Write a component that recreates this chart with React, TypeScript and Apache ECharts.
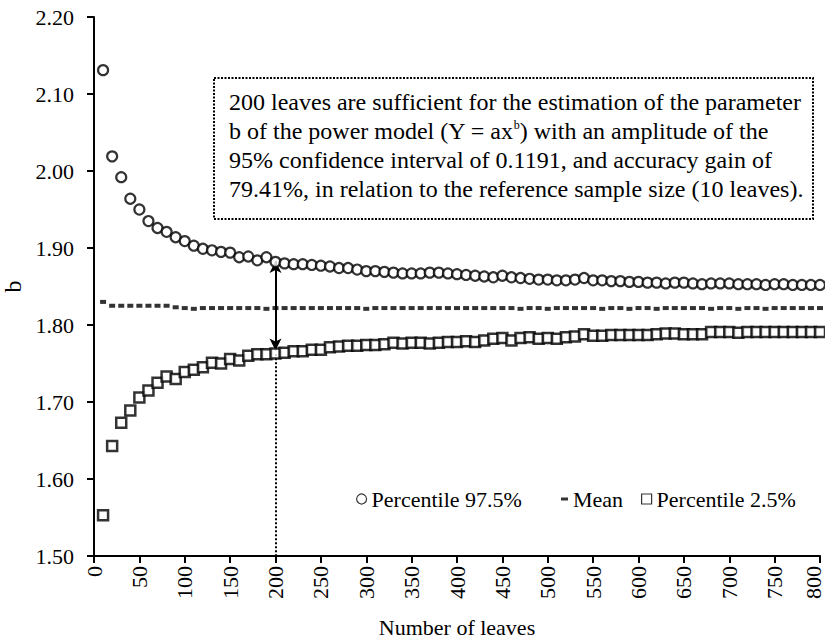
import React, { useEffect, useRef } from "react";
import * as echarts from "echarts";

const leaves = [10, 20, 30, 40, 50, 60, 70, 80, 90, 100, 110, 120, 130, 140, 150, 160, 170, 180, 190, 200,
  210, 220, 230, 240, 250, 260, 270, 280, 290, 300, 310, 320, 330, 340, 350, 360, 370, 380, 390, 400,
  410, 420, 430, 440, 450, 460, 470, 480, 490, 500, 510, 520, 530, 540, 550, 560, 570, 580, 590, 600,
  610, 620, 630, 640, 650, 660, 670, 680, 690, 700, 710, 720, 730, 740, 750, 760, 770, 780, 790, 800];

const upper = [2.131, 2.019, 1.992, 1.964, 1.950, 1.935, 1.926, 1.921, 1.914, 1.909,
  1.903, 1.899, 1.897, 1.895, 1.894, 1.888, 1.889, 1.884, 1.888, 1.882,
  1.880, 1.879, 1.879, 1.878, 1.877, 1.876, 1.874, 1.874, 1.872, 1.870,
  1.870, 1.869, 1.868, 1.867, 1.867, 1.867, 1.868, 1.868, 1.867, 1.866,
  1.865, 1.864, 1.863, 1.862, 1.864, 1.862, 1.861, 1.860, 1.859, 1.859,
  1.858, 1.858, 1.859, 1.861, 1.858, 1.858, 1.857, 1.857, 1.856, 1.856,
  1.855, 1.855, 1.854, 1.855, 1.855, 1.854, 1.853, 1.854, 1.854, 1.854,
  1.853, 1.853, 1.853, 1.852, 1.853, 1.853, 1.852, 1.852, 1.852, 1.852];

const mean = [1.830, 1.825, 1.825, 1.825, 1.825, 1.825, 1.825, 1.825, 1.823, 1.822,
  1.821, 1.822, 1.822, 1.822, 1.822, 1.822, 1.822, 1.822, 1.821, 1.822,
  1.822, 1.822, 1.822, 1.822, 1.822, 1.822, 1.822, 1.822, 1.822, 1.821,
  1.822, 1.822, 1.822, 1.822, 1.822, 1.822, 1.822, 1.822, 1.822, 1.822,
  1.822, 1.822, 1.822, 1.822, 1.822, 1.822, 1.821, 1.822, 1.822, 1.821,
  1.822, 1.822, 1.822, 1.822, 1.822, 1.821, 1.822, 1.822, 1.821, 1.822,
  1.822, 1.821, 1.822, 1.822, 1.822, 1.822, 1.822, 1.821, 1.822, 1.822,
  1.821, 1.822, 1.822, 1.821, 1.822, 1.822, 1.822, 1.822, 1.822, 1.822];

const lower = [1.553, 1.643, 1.673, 1.689, 1.706, 1.715, 1.725, 1.733, 1.730, 1.739,
  1.742, 1.745, 1.751, 1.750, 1.756, 1.754, 1.760, 1.762, 1.762, 1.763,
  1.764, 1.766, 1.766, 1.768, 1.768, 1.771, 1.772, 1.773, 1.773, 1.774,
  1.774, 1.775, 1.777, 1.776, 1.777, 1.777, 1.776, 1.777, 1.778, 1.778,
  1.779, 1.778, 1.780, 1.782, 1.783, 1.780, 1.783, 1.784, 1.782, 1.783,
  1.782, 1.784, 1.785, 1.788, 1.786, 1.786, 1.787, 1.787, 1.787, 1.787,
  1.787, 1.788, 1.789, 1.789, 1.788, 1.788, 1.788, 1.791, 1.791, 1.791,
  1.790, 1.791, 1.791, 1.791, 1.791, 1.791, 1.791, 1.791, 1.791, 1.791];

const seriesNames = ["Percentile 97.5%", "Mean", "Percentile 2.5%"];
const arrowTop = [200, 1.883];
const arrowBottom = [200, 1.767];
const dropTop = [200, 1.762];
const dropBottom = [200, 1.5];

const noteLines = [
  "{n|200 leaves are sufficient for the estimation of the parameter}",
  "{n|b of the power model (Y = ax}{s|b}{n|) with an amplitude of the}",
  "{n|95% confidence interval of 0.1191, and accuracy gain of}",
  "{n|79.41%, in relation to the reference sample size (10 leaves).}",
];

const FONT = "Liberation Serif";

export default function App() {
  const ref = useRef<HTMLDivElement>(null);
  useEffect(() => {
    if (!ref.current) return;
    const chart = echarts.init(ref.current, null, { renderer: "svg" });
    const pairs = (ys: number[]) => leaves.map((x, i) => [x, ys[i]]);
    const textStyle = { fontFamily: FONT, fontSize: 22, color: "#000" };
    const legendBase = {
      top: 483,
      orient: "horizontal",
      textStyle: { ...textStyle, fontSize: 22 },
      itemGap: 4,
      selectedMode: false,
    };
    chart.setOption({
      animation: false,
      backgroundColor: "#fff",
      grid: { left: 94, right: 5, top: 17, bottom: 86, containLabel: false, outerBoundsMode: "none" },
      legend: [
        { ...legendBase, left: 351, data: [seriesNames[0]], itemWidth: 10, itemHeight: 10, itemStyle: { borderWidth: 1.2 } },
        { ...legendBase, left: 556, data: [seriesNames[1]], itemWidth: 7, itemHeight: 3 },
        { ...legendBase, left: 636, data: [seriesNames[2]], itemWidth: 10, itemHeight: 10, itemStyle: { borderWidth: 1.2 } },
      ],
      xAxis: {
        type: "value",
        min: 0,
        max: 800,
        interval: 50,
        name: "Number of leaves",
        nameLocation: "middle",
        nameGap: 60,
        nameTextStyle: { ...textStyle, fontSize: 22 },
        axisLine: { lineStyle: { color: "#000", width: 2 } },
        axisTick: { show: true, inside: false, length: 7, lineStyle: { color: "#000", width: 2 } },
        axisLabel: {
          ...textStyle,
          rotate: 90,
          margin: 10,
          formatter: (v: number) => (v === 800 ? "{e|800}" : String(v)),
          rich: { e: { fontFamily: FONT, fontSize: 22, color: "#000", padding: [0, 0, 14, 0] } },
        },
        splitLine: { show: false },
      },
      yAxis: {
        type: "value",
        min: 1.5,
        max: 2.2,
        interval: 0.1,
        name: "b",
        nameLocation: "middle",
        nameGap: 62,
        nameRotate: 90,
        nameTextStyle: { ...textStyle, fontSize: 24 },
        axisLine: { show: true, lineStyle: { color: "#000", width: 2 } },
        axisTick: { show: true, inside: false, length: 7, lineStyle: { color: "#000", width: 2 } },
        axisLabel: { ...textStyle, margin: 20, formatter: (v: number) => v.toFixed(2) },
        splitLine: { show: false },
      },
      series: [
        {
          name: seriesNames[0],
          type: "scatter",
          symbol: "circle",
          symbolSize: 10,
          data: pairs(upper),
          itemStyle: { color: "#fff", borderColor: "#000", borderWidth: 2.2 },
          z: 3,
        },
        {
          name: seriesNames[1],
          type: "scatter",
          symbol: "rect",
          symbolSize: [6, 4],
          data: pairs(mean),
          itemStyle: { color: "#000" },
          z: 3,
        },
        {
          name: seriesNames[2],
          type: "scatter",
          symbol: "rect",
          symbolSize: 10,
          data: pairs(lower),
          itemStyle: { color: "#fff", borderColor: "#000", borderWidth: 2.5 },
          z: 3,
          markLine: {
            silent: true,
            label: { show: false },
            z: 2,
            data: [
              [
                { coord: arrowTop, symbol: "arrow", symbolSize: [9, 12], lineStyle: { color: "#000", width: 2, type: "solid" } },
                { coord: arrowBottom, symbol: "arrow", symbolSize: [9, 12] },
              ],
              [
                { coord: dropTop, symbol: "none", lineStyle: { color: "#000", width: 2, type: [2, 2] } },
                { coord: dropBottom, symbol: "none" },
              ],
            ],
          },
        },
      ],
      graphic: [
        {
          type: "rect",
          shape: { x: 214, y: 78, width: 599, height: 141 },
          style: { fill: "#fff", stroke: "#000", lineWidth: 2, lineDash: [2, 1.5] },
          z: 10,
        },
        ...noteLines.map((t, i) => ({
          type: "text",
          x: 229,
          y: 102 + i * 29,
          z: 11,
          style: {
            text: t,
            fill: "#000",
            verticalAlign: "middle",
            rich: {
              n: { fontFamily: FONT, fontSize: 24, fill: "#000", color: "#000" },
              s: { fontFamily: FONT, fontSize: 12, fill: "#000", color: "#000", verticalAlign: "top" },
            },
          },
        })),
      ],
    });
    return () => chart.dispose();
  }, []);
  return (
    <div
      ref={ref}
      style={{ position: "absolute", left: 0, top: 0, width: 825, height: 642, background: "#fff" }}
    />
  );
}
